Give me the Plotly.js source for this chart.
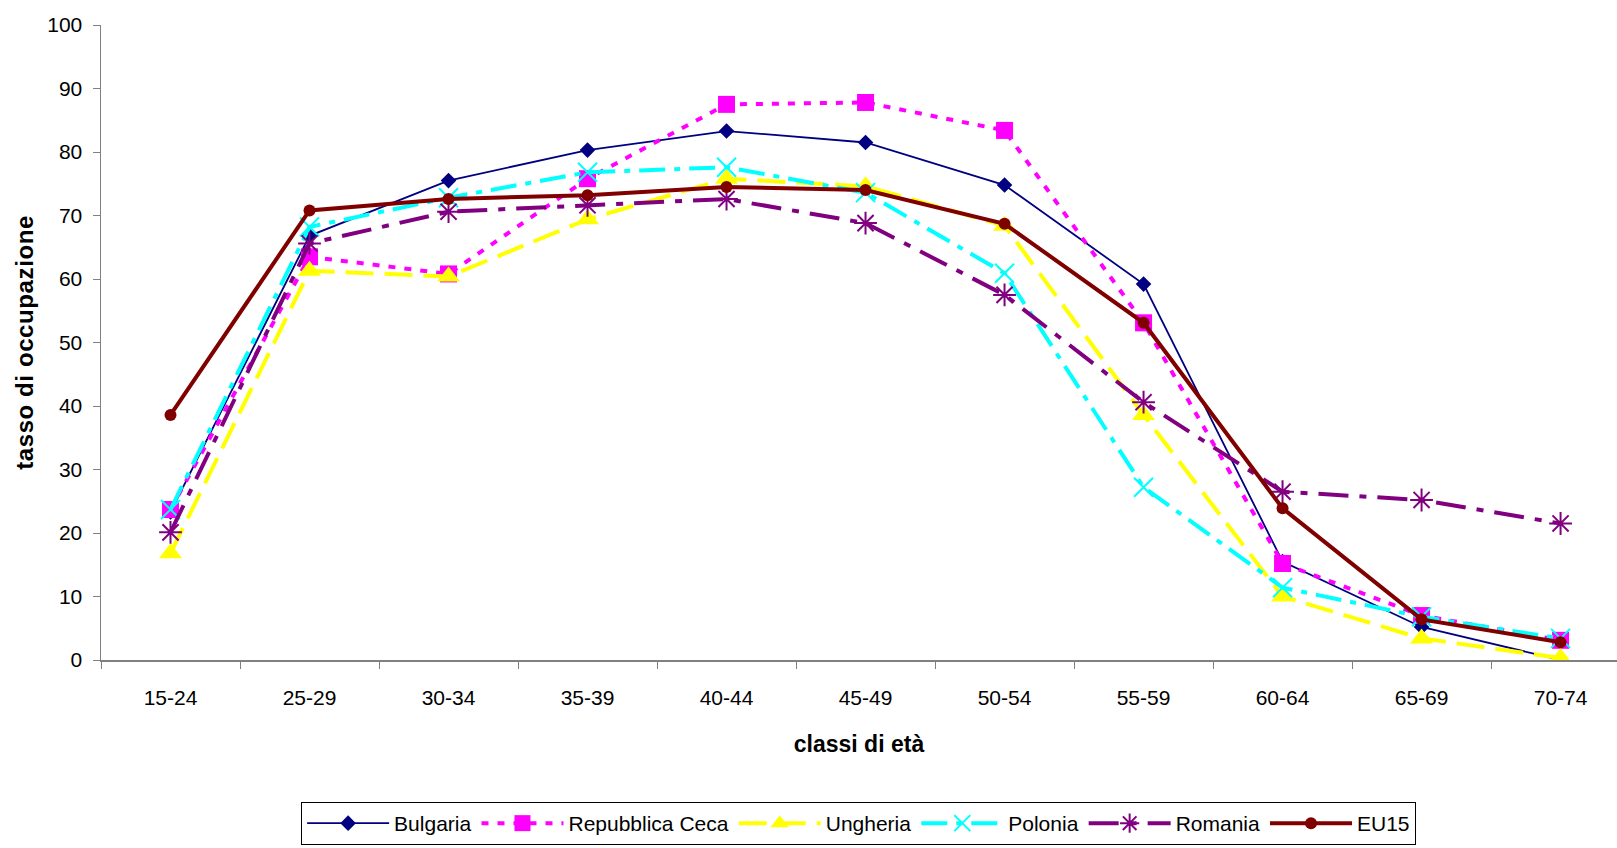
<!DOCTYPE html>
<html>
<head>
<meta charset="utf-8">
<script src="https://cdn.plot.ly/plotly-3.0.1.min.js"></script>
<style>
html,body{margin:0;padding:0;background:#fff;}
#chart{width:1617px;height:848px;}
.ytitle{letter-spacing:0.6px;}
</style>
</head>
<body>
<div id="chart"></div>
<script>
var categories = ["15-24","25-29","30-34","35-39","40-44","45-49","50-54","55-59","60-64","65-69","70-74"];
var bulgaria  = [23.3, 66.8, 75.5, 80.3, 83.3, 81.5, 74.8, 59.2, 15.5, 5.2, 0.0];
var ceca      = [23.7, 63.5, 60.8, 75.8, 87.5, 87.8, 83.4, 53.1, 15.2, 7.0, 3.1];
var ungheria  = [16.8, 61.3, 60.4, 69.4, 75.8, 74.6, 68.4, 38.6, 10.0, 3.4, 0.3];
var polonia   = [23.7, 68.2, 72.8, 76.8, 77.6, 73.6, 60.9, 27.2, 11.4, 6.8, 3.4];
var romania   = [20.1, 65.6, 70.6, 71.6, 72.6, 68.8, 57.5, 40.6, 26.5, 25.2, 21.5];
var eu15      = [38.6, 70.8, 72.6, 73.2, 74.5, 74.0, 68.7, 53.1, 23.9, 6.4, 2.8];
var seriesNames = ["Bulgaria","Repubblica Ceca","Ungheria","Polonia","Romania","EU15"];

var FONT = "Liberation Sans, Arial, sans-serif";
var traces = [
  {x: categories, y: bulgaria, name: seriesNames[0], type: "scatter", mode: "lines+markers",
   line: {color: "#000080", width: 1.8},
   marker: {symbol: "diamond", size: 12, color: "#000080"}},
  {x: categories, y: ceca, name: seriesNames[1], type: "scatter", mode: "lines+markers",
   line: {color: "#FF00FF", width: 4, dash: "7px,9px"},
   marker: {symbol: "square", size: 17, color: "#FF00FF"}},
  {x: categories, y: ungheria, name: seriesNames[2], type: "scatter", mode: "lines+markers",
   line: {color: "#FFFF00", width: 4, dash: "28px,11px"},
   marker: {symbol: "triangle-up", size: 20, color: "#FFFF00"}},
  {x: categories, y: polonia, name: seriesNames[3], type: "scatter", mode: "lines+markers",
   line: {color: "#00FFFF", width: 4, dash: "26px,9px,6px,9px"},
   marker: {symbol: "x-thin-open", size: 19, color: "#00FFFF", line: {color: "#00FFFF", width: 2}}},
  {x: categories, y: romania, name: seriesNames[4], type: "scatter", mode: "lines+markers",
   line: {color: "#800080", width: 4, dash: "30px,11px,7px,11px"},
   marker: {symbol: "asterisk-open", size: 19, color: "#800080", line: {color: "#800080", width: 2}}},
  {x: categories, y: eu15, name: seriesNames[5], type: "scatter", mode: "lines+markers",
   line: {color: "#800000", width: 4},
   marker: {symbol: "circle", size: 12, color: "#800000"}}
];

var layout = {
  width: 1617, height: 848,
  paper_bgcolor: "#ffffff", plot_bgcolor: "#ffffff",
  margin: {l: 101, r: 0, t: 25, b: 188, pad: 0},
  font: {family: FONT, size: 21, color: "#000"},
  showlegend: true,
  legend: {
    orientation: "h", x: 0.132, xanchor: "left", y: -0.2236, yanchor: "top",
    bordercolor: "#000", borderwidth: 1, bgcolor: "#fff",
    font: {family: FONT, size: 21, color: "#000"},
    itemwidth: 82, tracegroupgap: 0, itemclick: false
  },
  xaxis: {
    type: "category", range: [-0.5, 10.406],
    showline: true, linecolor: "#808080", linewidth: 1.5,
    ticks: "outside", tickson: "boundaries", ticklen: 7, tickcolor: "#808080", tickwidth: 1,
    showgrid: false, zeroline: false,
    tickfont: {family: FONT, size: 21, color: "#000"},
    ticklabelstandoff: 18,
    title: {text: "classi di età", font: {family: FONT, size: 23, color: "#000", weight: "bold"}, standoff: 28}
  },
  yaxis: {
    range: [0, 100], dtick: 10, tick0: 0,
    showline: true, linecolor: "#808080", linewidth: 1.5,
    ticks: "outside", ticklen: 7, tickcolor: "#808080", tickwidth: 1,
    showgrid: false, zeroline: false,
    tickfont: {family: FONT, size: 21, color: "#000"},
    ticklabelstandoff: 6,
    title: {text: "tasso di occupazione", font: {family: FONT, size: 24, color: "#000", weight: "bold"}, standoff: 7}
  }
};

Plotly.newPlot("chart", traces, layout, {displayModeBar: false, staticPlot: true});
</script>
</body>
</html>
